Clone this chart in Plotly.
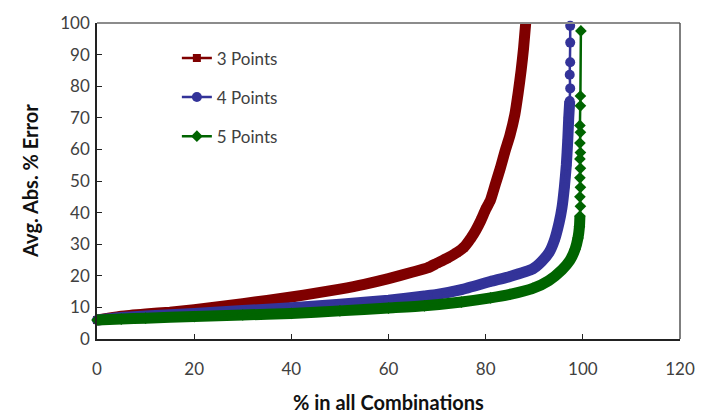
import plotly.graph_objects as go

# Cumulative share of combinations (x, %) vs average absolute % error (y, %)
x_3pts = [0, 2, 5, 10, 15, 20, 25, 30, 35, 40, 45, 50, 55, 60, 65, 68, 70, 72, 74,
          75.5, 77, 78, 79, 80, 81, 82, 83, 84, 85, 86, 86.7, 87.3, 87.8, 88.3]
y_3pts = [6.0, 6.5, 7.2, 7.9, 8.5, 9.3, 10.2, 11.2, 12.2, 13.3, 14.5, 15.8, 17.3, 19.1,
          21.2, 22.5, 24.0, 25.5, 27.3, 29.0, 32.0, 34.5, 37.5, 41.0, 44.0, 49.0, 54.0,
          59.5, 64.5, 71.0, 78.0, 85.0, 92.0, 101.0]

x_4pts = [0, 5, 10, 20, 30, 40, 50, 60, 67.4, 70, 75, 81, 85, 89.7, 91.5, 93.1, 94.2,
          95.1, 95.7, 96.2, 96.6, 96.9, 97.1, 97.3, 97.4, 97.3, 97.4, 97.4, 97.4]
y_4pts = [6.0, 6.8, 7.3, 8.1, 9.0, 9.9, 11.0, 12.3, 13.6, 14.1, 15.6, 18.2, 19.8, 22.2,
          24.5, 27.5, 31.5, 36.7, 41.5, 48.0, 55.0, 63.0, 70.0, 75.3, 79.3, 83.6, 87.6,
          93.8, 99.1]

x_5pts = [0, 5, 10, 20, 30, 40, 50, 60, 67.4, 75, 81, 85, 89.7, 93, 95.7, 97.3, 98.4,
          99.0, 99.3, 99.4, 99.5, 99.4, 99.5, 99.4, 99.5, 99.4, 99.5, 99.4, 99.5, 99.4,
          99.5, 99.5, 99.6]
y_5pts = [6.0, 6.3, 6.6, 7.1, 7.6, 8.1, 8.9, 9.8, 10.5, 11.7, 13.0, 14.1, 16.0, 18.5,
          21.9, 24.8, 28.4, 32.0, 35.5, 38.9, 42.0, 45.0, 48.0, 51.0, 54.0, 57.0, 59.0,
          62.0, 65.4, 67.6, 73.8, 76.9, 97.5]

x_ticks = [0, 20, 40, 60, 80, 100, 120]
y_ticks = [0, 10, 20, 30, 40, 50, 60, 70, 80, 90, 100]

series = [
    ("3 Points", x_3pts, y_3pts, "#7f0000", "square", 8, 102),
    ("4 Points", x_4pts, y_4pts, "#333399", "circle", 10, 76),
    ("5 Points", x_5pts, y_5pts, "#006400", "diamond", 9, 40),
]

fig = go.Figure()
for name, xs, ys, color, symbol, msize, dense_top in series:
    # dense region: thousands of overlapping markers form a solid band
    bx = [x for x, y in zip(xs, ys) if y <= dense_top]
    by = [y for y in ys if y <= dense_top]
    fig.add_trace(go.Scatter(
        x=bx, y=by, mode="lines",
        line=dict(color=color, width=11, shape="spline", smoothing=0.5),
        showlegend=False, hoverinfo="skip", legendgroup=name,
    ))
    fig.add_trace(go.Scatter(
        x=xs, y=ys, mode="lines+markers", name=name, legendgroup=name,
        line=dict(color=color, width=2.5),
        marker=dict(color=color, symbol=symbol, size=msize),
        cliponaxis=False,
    ))

axis_common = dict(
    showgrid=False, zeroline=False, showline=True, linecolor="#222222", linewidth=1.5,
    ticks="inside", ticklen=5, tickcolor="#222222", tickwidth=1,
    tickfont=dict(family="Lato", size=17, color="#404040"),
)
fig.update_xaxes(range=[0, 120], tickvals=x_ticks, ticktext=[str(v) for v in x_ticks],
                 ticklabelstandoff=14, **axis_common)
fig.update_yaxes(range=[0, 100], tickvals=y_ticks, ticktext=[str(v) for v in y_ticks],
                 ticklabelstandoff=2, **axis_common)

fig.update_layout(
    width=707, height=420,
    margin=dict(l=97, r=17, t=15, b=81),
    paper_bgcolor="white", plot_bgcolor="white",
    showlegend=True,
    legend=dict(
        x=0.137, y=0.945, xanchor="left", yanchor="top",
        font=dict(family="Lato", size=17, color="#404040"),
        bgcolor="rgba(0,0,0,0)", traceorder="grouped", tracegroupgap=14,
    ),
    shapes=[
        dict(type="line", xref="paper", yref="paper", x0=0, x1=1, y0=1, y1=1,
             line=dict(color="#8c8c8c", width=2)),
        dict(type="line", xref="paper", yref="paper", x0=1, x1=1, y0=0, y1=1,
             line=dict(color="#555555", width=1.5)),
    ],
    annotations=[
        dict(text="<b>% in all Combinations</b>", xref="paper", yref="paper",
             x=0.5, y=-0.2, xanchor="center", yanchor="middle", showarrow=False,
             font=dict(family="Lato", size=20, color="#111111")),
        dict(text="<b>Avg. Abs. % Error</b>", xref="paper", yref="paper",
             x=-0.115, y=0.5, xanchor="center", yanchor="middle", showarrow=False,
             textangle=-90, font=dict(family="Lato", size=20, color="#111111")),
    ],
)

fig.write_html("out.html")
